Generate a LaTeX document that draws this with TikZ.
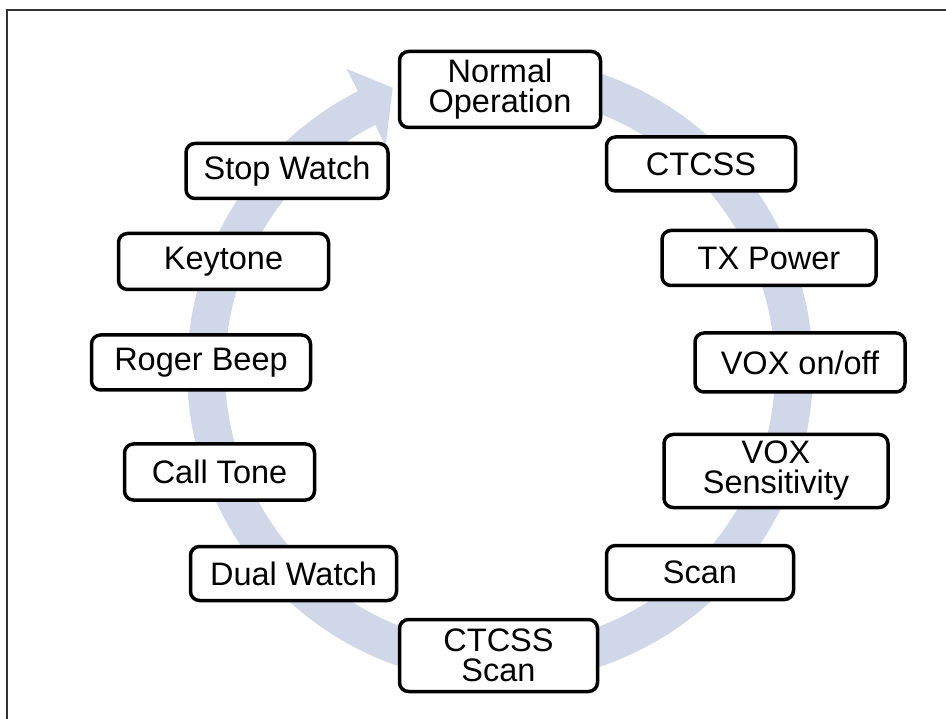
\documentclass[tikz,border=0pt]{standalone}
\usepackage{fontspec}
\setmainfont{Liberation Sans}
\definecolor{ringblue}{RGB}{208,215,232}
\begin{document}
\begin{tikzpicture}[x=1pt, y=1pt,
  stage/.style={draw, line width=3.5pt, rounded corners=9pt, fill=white, align=center, inner sep=0pt, font=\fontsize{32.5}{30}\selectfont}]
  \useasboundingbox (0,0) rectangle (946,-719);
  % centre of the ring
  \def\ringx{500}
  \def\ringy{-370}

  % Outer frame (top and left edges only)
  \draw[line width=1.8pt, black!80] (7,-719) -- (7,-10) -- (946,-10);

  % Circular arrow behind the menu items
  \fill[ringblue, shift={(\ringx,\ringy)}] (85:313pt) arc[start angle=85, end angle=-243, radius=313pt]
    -- (-243:338pt) -- (110.8:302pt) -- (-243:252pt) -- (-243:275pt)
    arc[start angle=-243, end angle=85, radius=275pt] -- cycle;

  % Menu items, clockwise from the top
  \node[stage, minimum width=201pt, minimum height=76pt] (normal) at (500,-89.5) {Normal\\Operation};
  \node[stage, minimum width=189pt, minimum height=54pt] (ctcss) at (701,-164) {CTCSS};
  \node[stage, minimum width=214pt, minimum height=55pt] (txpower) at (769,-258) {TX Power};
  \node[stage, minimum width=210pt, minimum height=59pt] (voxonoff) at (800,-362.5) {VOX on/off};
  \node[stage, minimum width=224pt, minimum height=73pt] (voxsens) at (776,-471) {VOX\\Sensitivity};
  \node[stage, minimum width=187pt, minimum height=54pt] (scan) at (700,-572.5) {Scan};
  \node[stage, minimum width=198pt, minimum height=72pt] (ctcssscan) at (498.5,-655.5) {CTCSS\\Scan};
  \node[stage, minimum width=206pt, minimum height=54pt] (dualwatch) at (293.5,-573.5) {Dual Watch};
  \node[stage, minimum width=190pt, minimum height=56pt] (calltone) at (219.5,-472) {Call Tone};
  \node[stage, minimum width=219pt, minimum height=55pt] (rogerbeep) at (201,-362.5) {Roger Beep};
  \node[stage, minimum width=210pt, minimum height=56pt] (keytone) at (223.5,-261.5) {Keytone};
  \node[stage, minimum width=202pt, minimum height=55pt] (stopwatch) at (287,-171) {Stop Watch};
\end{tikzpicture}
\end{document}
